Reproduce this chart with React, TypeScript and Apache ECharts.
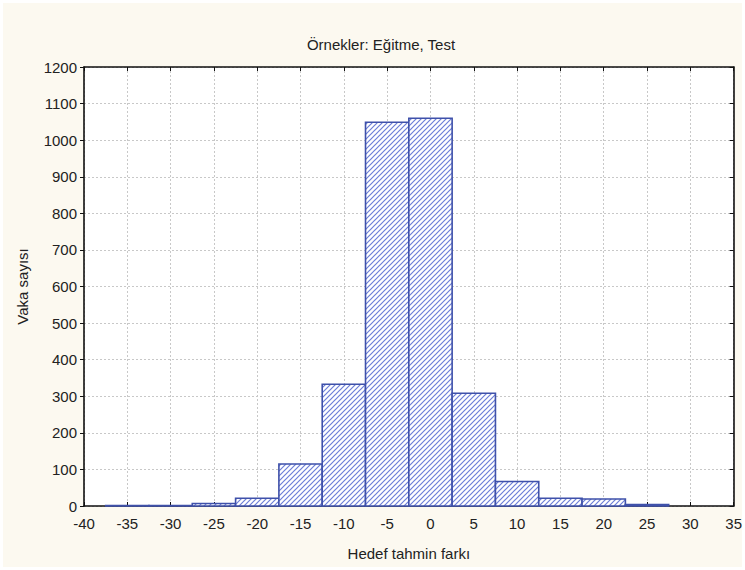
import React, { useEffect, useRef } from "react";
import * as echarts from "echarts";

const binCenters = [-35, -30, -25, -20, -15, -10, -5, 0, 5, 10, 15, 20, 25, 30];
const counts = [1, 1, 7, 21, 115, 333, 1049, 1060, 308, 67, 21, 19, 4, 0];
const binWidth = 5;
const xTicks = { min: -40, max: 35, interval: 5 };
const yTicks = { min: 0, max: 1200, interval: 100 };
const titleText = "Örnekler: Eğitme, Test";
const xName = "Hedef tahmin farkı";
const yName = "Vaka sayısı";

const hatchSvg =
  '<svg xmlns="http://www.w3.org/2000/svg" width="5" height="5">' +
  '<rect width="5" height="5" fill="#ffffff"/>' +
  '<path d="M-1,1 L1,-1 M0,5 L5,0 M4,6 L6,4" stroke="#6b7ed8" stroke-width="1.2"/></svg>';
const hatchUrl = "data:image/svg+xml;base64," + btoa(hatchSvg);

export default function App() {
  const ref = useRef<HTMLDivElement>(null);
  useEffect(() => {
    document.body.style.margin = "0";
    const chart = echarts.init(ref.current!, null, { renderer: "svg" });
    const font = "Liberation Sans, Arial, sans-serif";
    const fs = 15;
    const data = binCenters.map((c, i) => [c, counts[i]]);
    chart.setOption({
      animation: false,
      backgroundColor: "#ffffff",
      textStyle: { fontFamily: font },
      graphic: [
        {
          type: "rect",
          left: 3,
          top: 3,
          shape: { width: 739, height: 564 },
          style: { fill: "#fcf9f0" },
          z: -10,
          silent: true,
        },
        {
          type: "text",
          x: 381,
          y: 44,
          style: {
            text: titleText,
            fontSize: fs,
            fontFamily: font,
            fill: "#222",
            align: "center",
            verticalAlign: "middle",
          },
        },
      ],
      grid: {
        left: 84,
        right: 8,
        top: 67,
        bottom: 64,
        show: true,
        backgroundColor: "#ffffff",
        borderWidth: 0,
      },
      xAxis: [
        {
          type: "value",
          min: xTicks.min,
          max: xTicks.max,
          interval: xTicks.interval,
          position: "bottom",
          name: xName,
          nameLocation: "middle",
          nameGap: 40,
          nameTextStyle: { fontSize: fs, color: "#222", fontFamily: font },
          axisLine: { show: true, onZero: false, lineStyle: { color: "#111", width: 1.6 } },
          axisTick: { show: true, inside: true, length: 4, lineStyle: { color: "#111" } },
          axisLabel: { fontSize: fs, color: "#222", margin: 10, fontFamily: font },
          splitLine: { show: true, lineStyle: { color: "#c8c8c8", type: [2, 2] } },
        },
        {
          type: "value",
          min: xTicks.min,
          max: xTicks.max,
          interval: xTicks.interval,
          position: "top",
          axisLine: { show: true, onZero: false, lineStyle: { color: "#111", width: 1.6 } },
          axisTick: { show: true, inside: true, length: 4, lineStyle: { color: "#111" } },
          axisLabel: { show: false },
          splitLine: { show: false },
        },
      ],
      yAxis: [
        {
          type: "value",
          min: yTicks.min,
          max: yTicks.max,
          interval: yTicks.interval,
          position: "left",
          name: yName,
          nameLocation: "middle",
          nameGap: 54,
          nameTextStyle: { fontSize: fs, color: "#222", fontFamily: font },
          axisLine: { show: true, onZero: false, lineStyle: { color: "#111", width: 1.6 } },
          axisTick: { show: true, inside: false, length: 4, lineStyle: { color: "#111" } },
          axisLabel: {
            fontSize: fs,
            color: "#222",
            margin: 7,
            fontFamily: font,
            formatter: (v: number) => String(v),
          },
          splitLine: { show: true, lineStyle: { color: "#c8c8c8", type: [2, 2] } },
        },
        {
          type: "value",
          min: yTicks.min,
          max: yTicks.max,
          interval: yTicks.interval,
          position: "right",
          axisLine: { show: true, onZero: false, lineStyle: { color: "#111", width: 1.6 } },
          axisTick: { show: true, inside: true, length: 4, lineStyle: { color: "#111" } },
          axisLabel: { show: false },
          splitLine: { show: false },
        },
      ],
      series: [
        {
          type: "custom",
          xAxisIndex: 0,
          yAxisIndex: 0,
          data,
          z: 5,
          renderItem: (params: any, api: any) => {
            const c = api.value(0);
            const v = api.value(1);
            if (!v) return null;
            const p0 = api.coord([c - binWidth / 2, v]);
            const p1 = api.coord([c + binWidth / 2, 0]);
            return {
              type: "rect",
              shape: { x: p0[0], y: p0[1], width: p1[0] - p0[0], height: p1[1] - p0[1] },
              style: {
                fill: {
                  image: hatchUrl,
                  repeat: "repeat",
                  imageWidth: 5,
                  imageHeight: 5,
                },
                stroke: "#3f51aa",
                lineWidth: 1.6,
              },
            };
          },
        },
      ],
    });
    return () => chart.dispose();
  }, []);
  return <div ref={ref} style={{ width: 745, height: 570 }} />;
}
